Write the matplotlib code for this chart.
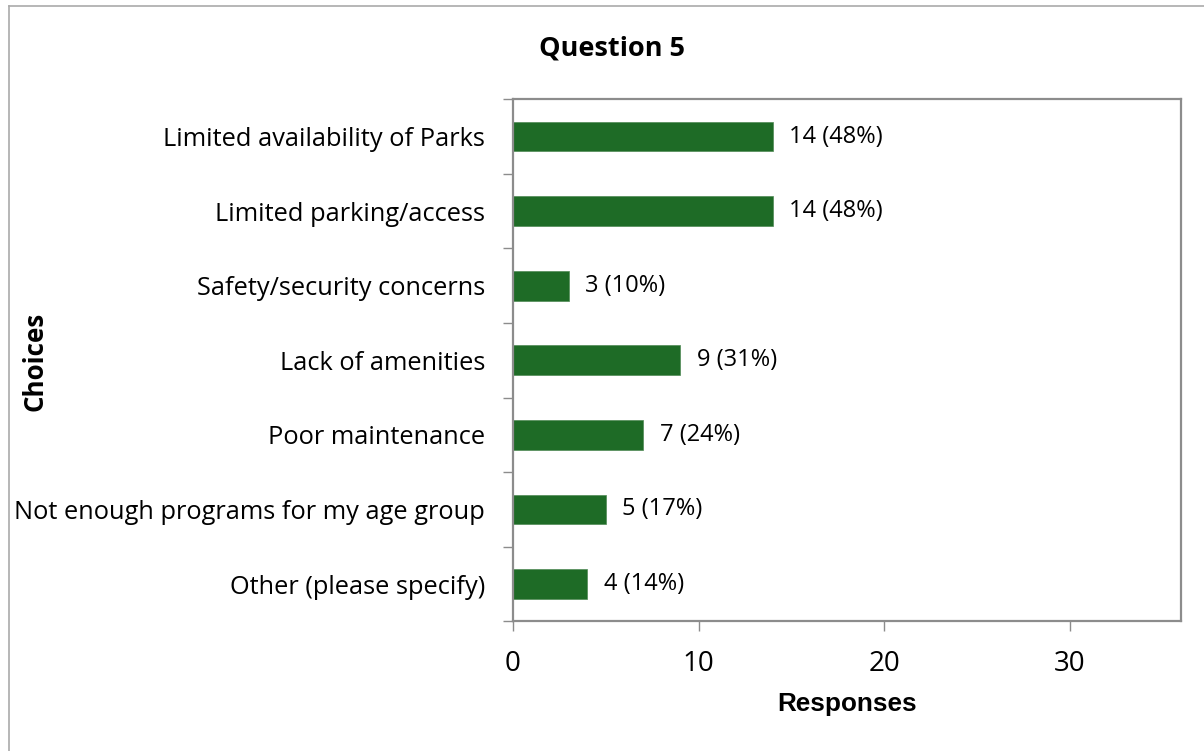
import matplotlib
matplotlib.use("Agg")
import matplotlib.pyplot as plt
from matplotlib.lines import Line2D
import numpy as np

choices = ["Limited availability of Parks", "Limited parking/access",
           "Safety/security concerns", "Lack of amenities", "Poor maintenance",
           "Not enough programs for my age group", "Other (please specify)"]
responses = [14, 14, 3, 9, 7, 5, 4]
percents = [48, 48, 10, 31, 24, 17, 14]
xticks = [0, 10, 20, 30]

plt.rcParams['font.family'] = ['Open Sans', 'DejaVu Sans']

fig = plt.figure(figsize=(12.04, 7.51), dpi=100)
ax = fig.add_axes([0.4261, 0.1727, 0.9809 - 0.4261, 0.8678 - 0.1727])

y = np.arange(len(choices))
bars = ax.barh(y, responses, height=0.4, color='#1e6b26', edgecolor='#4f8a55', linewidth=0.5)
for b, r, p in zip(bars, responses, percents):
    ax.text(b.get_width() + 0.9, b.get_y() + b.get_height() / 2, f"{r} ({p}%)",
            va='center', ha='left', fontsize=17)

ax.set_xlim(0, 36)
ax.set_ylim(len(choices) - 0.5, -0.5)
ax.set_xticks(xticks)
ax.set_xticklabels([str(t) for t in xticks], fontsize=20)
ax.tick_params(axis='x', length=7.5, width=1, color='#8c8c8c', pad=13)

# y ticks between categories, labels at centres
ax.set_yticks(np.arange(-0.5, len(choices), 1.0))
ax.set_yticklabels([])
ax.set_yticks(y, minor=True)
ax.set_yticklabels(choices, minor=True, fontsize=18.3)
ax.tick_params(axis='y', which='major', length=7.5, width=1, color='#8c8c8c')
ax.tick_params(axis='y', which='minor', length=0, pad=20)

for s in ax.spines.values():
    s.set_color('#8c8c8c')
    s.set_linewidth(1.6)

ax.set_xlabel('Responses', fontsize=18.8, fontweight='bold', family='Liberation Sans', labelpad=10)
fig.text(0.029, 0.519, 'Choices', rotation=90, fontsize=18.7, fontweight='bold',
         ha='center', va='center')
fig.text(0.508, 0.935, 'Question 5', fontsize=19.5, fontweight='bold', ha='center', va='center')

# outer chart border
fig.add_artist(Line2D([8.5 / 1204, 8.5 / 1204], [0, 1 - 6 / 751], transform=fig.transFigure,
                      color='#aaaaaa', linewidth=1.2))
fig.add_artist(Line2D([8.5 / 1204, 1], [1 - 6 / 751, 1 - 6 / 751], transform=fig.transFigure,
                      color='#aaaaaa', linewidth=1.2))

fig.savefig('out.png', dpi=100)
